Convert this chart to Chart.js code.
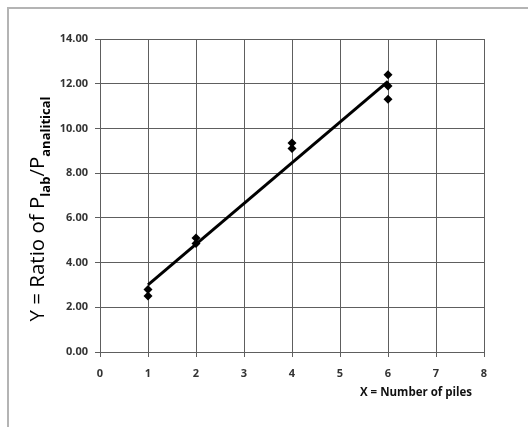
<!DOCTYPE html>
<html>
<head>
<meta charset="utf-8">
<script src="https://cdn.jsdelivr.net/npm/chart.js@4.4.1/dist/chart.umd.min.js"></script>
<style>
  html, body { margin: 0; padding: 0; background: #fff; overflow: hidden; }
  canvas { display: block; }
</style>
</head>
<body>
<canvas id="c" width="528" height="427"></canvas>
<script>
// ---- data ----
const pileCounts = [1, 1, 2, 2, 4, 4, 6, 6, 6];
const loadRatios = [2.8, 2.5, 5.1, 4.85, 9.35, 9.1, 12.4, 11.9, 11.3];
const trendX = [1, 6];
const trendY = [3.0, 12.1];
const xTickValues = [0, 1, 2, 3, 4, 5, 6, 7, 8];
const yTickValues = [0, 2, 4, 6, 8, 10, 12, 14];
const yTitleParts = [
  { text: 'Y = Ratio of P', sub: false },
  { text: 'lab', sub: true },
  { text: '/P', sub: false },
  { text: 'analitical', sub: true }
];
const xTitle = 'X = Number of piles';

const pointData = pileCounts.map((x, i) => ({ x: x, y: loadRatios[i] }));
const trendData = trendX.map((x, i) => ({ x: x, y: trendY[i] }));

const gridColor = '#5e5e5e';
const tickFont = { family: 'Open Sans', size: 11, weight: 'bold' };

const framePlugin = {
  id: 'frame',
  beforeDraw(chart) {
    const ctx = chart.ctx;
    ctx.save();
    ctx.strokeStyle = '#b4b4b4';
    ctx.lineWidth = 2;
    ctx.beginPath();
    ctx.moveTo(8, chart.height);
    ctx.lineTo(8, 8);
    ctx.lineTo(chart.width, 8);
    ctx.stroke();
    ctx.restore();
  }
};

const titlePlugin = {
  id: 'titles',
  afterDraw(chart) {
    const ctx = chart.ctx;
    ctx.save();
    const mainFont = '500 20.5px "Open Sans"';
    const subFont = 'bold 13px "Open Sans"';
    let total = 0;
    const widths = yTitleParts.map(p => {
      ctx.font = p.sub ? subFont : mainFont;
      const w = ctx.measureText(p.text).width;
      total += w;
      return w;
    });
    const cy = 209;
    ctx.translate(44, cy + total / 2);
    ctx.rotate(-Math.PI / 2);
    ctx.fillStyle = '#000';
    ctx.textBaseline = 'alphabetic';
    ctx.textAlign = 'left';
    let pos = 0;
    yTitleParts.forEach((p, i) => {
      ctx.font = p.sub ? subFont : mainFont;
      ctx.fillText(p.text, pos, p.sub ? 6 : 0);
      pos += widths[i];
    });
    ctx.restore();

    ctx.save();
    ctx.font = 'bold 11.5px "Open Sans"';
    ctx.fillStyle = '#111';
    ctx.textAlign = 'center';
    ctx.textBaseline = 'middle';
    ctx.fillText(xTitle, 416, 393);
    ctx.restore();
  }
};

new Chart(document.getElementById('c'), {
  type: 'scatter',
  data: {
    datasets: [
      {
        type: 'line',
        data: trendData,
        borderColor: '#000',
        borderWidth: 3,
        pointRadius: 0,
        fill: false,
        order: 2
      },
      {
        data: pointData,
        pointStyle: 'rectRot',
        pointRadius: 4.5,
        backgroundColor: '#000',
        borderColor: '#000',
        borderWidth: 0,
        showLine: false,
        order: 1
      }
    ]
  },
  options: {
    responsive: false,
    animation: false,
    events: [],
    layout: { padding: { top: 39, right: 44, left: 0, bottom: 0 } },
    plugins: { legend: { display: false }, tooltip: { enabled: false } },
    scales: {
      x: {
        type: 'linear',
        min: 0, max: 8,
        afterBuildTicks: (s) => { s.ticks = xTickValues.map(v => ({ value: v })); },
        afterFit: (s) => { s.height = 75; },
        ticks: { font: tickFont, color: '#333', padding: 10, maxRotation: 0 },
        grid: { color: gridColor, lineWidth: 1, tickLength: 5, tickColor: gridColor },
        border: { color: gridColor, width: 1 }
      },
      y: {
        type: 'linear',
        min: 0, max: 14,
        afterBuildTicks: (s) => { s.ticks = yTickValues.map(v => ({ value: v })); },
        afterFit: (s) => { s.width = 100; },
        ticks: { font: tickFont, color: '#333', padding: 7, callback: (v) => Number(v).toFixed(2) },
        grid: { color: gridColor, lineWidth: 1, tickLength: 5, tickColor: gridColor },
        border: { color: gridColor, width: 1 }
      }
    }
  },
  plugins: [framePlugin, titlePlugin]
});
</script>
</body>
</html>
